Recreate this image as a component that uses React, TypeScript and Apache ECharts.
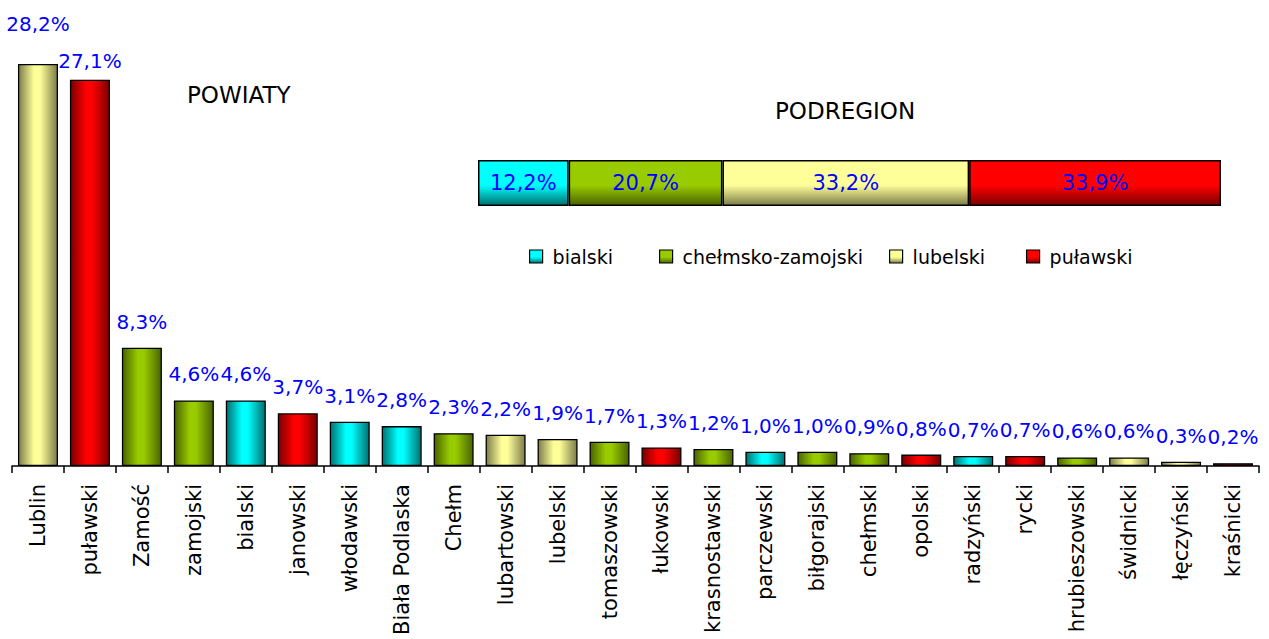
import React, { useEffect, useRef } from "react";
import * as echarts from "echarts";

const categories = [
  "Lublin", "puławski", "Zamość", "zamojski", "bialski", "janowski", "włodawski",
  "Biała Podlaska", "Chełm", "lubartowski", "lubelski", "tomaszowski", "łukowski",
  "krasnostawski", "parczewski", "biłgorajski", "chełmski", "opolski", "radzyński",
  "rycki", "hrubieszowski", "świdnicki", "łęczyński", "kraśnicki",
];
const values = [
  28.2, 27.1, 8.3, 4.6, 4.6, 3.7, 3.1, 2.8, 2.3, 2.2, 1.9, 1.7, 1.3, 1.2, 1.0, 1.0,
  0.9, 0.8, 0.7, 0.7, 0.6, 0.6, 0.3, 0.2,
];
// subregion of each powiat
const groups = [
  "lubelski", "puławski", "chełmsko-zamojski", "chełmsko-zamojski", "bialski", "puławski",
  "bialski", "bialski", "chełmsko-zamojski", "lubelski", "lubelski", "chełmsko-zamojski",
  "puławski", "chełmsko-zamojski", "bialski", "chełmsko-zamojski", "chełmsko-zamojski",
  "puławski", "bialski", "puławski", "chełmsko-zamojski", "lubelski", "lubelski", "puławski",
];
const subregions = ["bialski", "chełmsko-zamojski", "lubelski", "puławski"];
const subregionValues = [12.2, 20.7, 33.2, 33.9];

const palette: Record<string, [string, string]> = {
  bialski: ["#00FFFF", "#007070"],
  "chełmsko-zamojski": ["#99CC00", "#4a6300"],
  lubelski: ["#FFFF99", "#7d7d4a"],
  "puławski": ["#FF0000", "#7a0000"],
};

const FONT = "DejaVu Sans";

function hGrad(name: string) {
  const [light, dark] = palette[name];
  return new echarts.graphic.LinearGradient(0, 0, 1, 0, [
    { offset: 0, color: dark },
    { offset: 0.4, color: light },
    { offset: 0.55, color: light },
    { offset: 1, color: dark },
  ]);
}
function vGrad(name: string) {
  const [light, dark] = palette[name];
  return new echarts.graphic.LinearGradient(0, 0, 0, 1, [
    { offset: 0, color: light },
    { offset: 0.55, color: light },
    { offset: 1, color: dark },
  ]);
}

const fmt = (v: number) => v.toFixed(1).replace(".", ",") + "%";
const legendLefts = [524, 654, 884, 1021];

export default function App() {
  const ref = useRef<HTMLDivElement>(null);
  useEffect(() => {
    if (!ref.current) return;
    const chart = echarts.init(ref.current, null, { renderer: "svg" });
    const labelDistances: Record<number, number> = { 0: 30, 1: 9 };
    const mainData = values.map((v, i) => ({
      value: v,
      itemStyle: { color: hGrad(groups[i]) },
      label: { distance: labelDistances[i] ?? 16 },
    }));
    chart.setOption({
      animation: false,
      backgroundColor: "#ffffff",
      textStyle: { fontFamily: FONT },
      graphic: [
        {
          type: "text",
          left: 187,
          top: 83,
          style: { text: "POWIATY", fontSize: 23, fontFamily: FONT, fill: "#000" },
        },
        {
          type: "text",
          left: 775,
          top: 99,
          style: { text: "PODREGION", fontSize: 23, fontFamily: FONT, fill: "#000" },
        },
      ],
      legend: subregions.map((s, i) => ({
        data: [s],
        left: legendLefts[i],
        top: 242,
        itemWidth: 13,
        itemHeight: 13,
        icon: "rect",
        textStyle: { fontSize: 19, fontFamily: FONT, color: "#000", padding: [0, 0, 0, 5] },
        itemStyle: { borderColor: "#000", borderWidth: 1.2 },
        selectedMode: false,
      })),
      grid: [
        { left: 12, right: 10, top: 38.3, height: 427.7, containLabel: false },
        { left: 478, top: 160, width: 743, height: 46, containLabel: false },
      ],
      xAxis: [
        {
          gridIndex: 0,
          type: "category",
          data: categories,
          axisLine: { lineStyle: { color: "#000", width: 1.5 } },
          axisTick: { show: true, length: 7, lineStyle: { color: "#000", width: 1.5 } },
          axisLabel: {
            rotate: 90,
            interval: 0,
            margin: 18,
            fontSize: 21,
            fontFamily: FONT,
            color: "#000",
          },
        },
        { gridIndex: 1, type: "value", min: 0, max: 100, show: false },
      ],
      yAxis: [
        { gridIndex: 0, type: "value", min: 0, max: 30, show: false, splitLine: { show: false } },
        { gridIndex: 1, type: "category", data: ["PODREGION"], show: false },
      ],
      series: [
        {
          name: "powiaty",
          type: "bar",
          xAxisIndex: 0,
          yAxisIndex: 0,
          data: mainData,
          barCategoryGap: "23%",
          itemStyle: { borderColor: "#000", borderWidth: 1.3 },
          label: {
            show: true,
            position: "top",
            color: "#0000FF",
            fontSize: 20,
            fontFamily: FONT,
            formatter: (p: any) => fmt(p.value),
          },
        },
        ...subregions.map((s, i) => ({
          name: s,
          type: "bar",
          stack: "pod",
          xAxisIndex: 1,
          yAxisIndex: 1,
          barWidth: "100%",
          data: [subregionValues[i]],
          itemStyle: { color: vGrad(s), borderColor: "#000", borderWidth: 1.5 },
          label: {
            show: true,
            position: "inside",
            color: "#0000FF",
            fontSize: 21,
            fontFamily: FONT,
            formatter: (p: any) => fmt(p.value),
          },
        })),
      ],
    });
    return () => chart.dispose();
  }, []);
  return (
    <div
      ref={ref}
      style={{ position: "fixed", left: 0, top: 0, width: 1269, height: 639 }}
    />
  );
}
